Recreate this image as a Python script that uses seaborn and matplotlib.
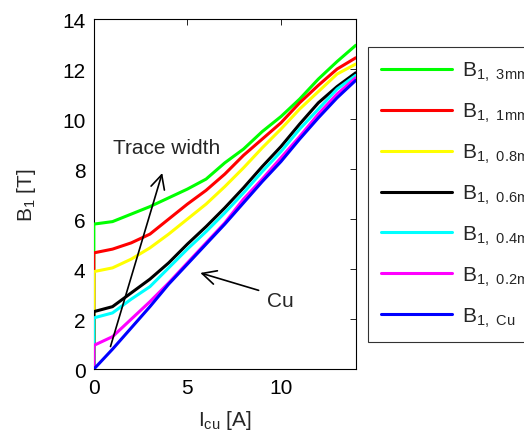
import matplotlib
matplotlib.use("Agg")
import matplotlib.pyplot as plt
import seaborn as sns
import numpy as np

# x positions (current in A); first point repeated at 0 so each trace rises from the origin
current = [0, 0, 1, 2, 3, 4, 5, 6, 7, 8, 9, 10, 11, 12, 13, 14]

b3mm = [0, 5.80, 5.90, 6.20, 6.50, 6.85, 7.20, 7.60, 8.25, 8.80, 9.50, 10.10, 10.80, 11.60, 12.30, 12.95]
b1mm = [0, 4.65, 4.80, 5.05, 5.40, 6.00, 6.60, 7.15, 7.80, 8.55, 9.20, 9.85, 10.65, 11.35, 12.00, 12.45]
b08mm = [0, 3.90, 4.05, 4.40, 4.85, 5.40, 6.00, 6.60, 7.30, 8.05, 8.85, 9.60, 10.40, 11.10, 11.80, 12.20]
b06mm = [0, 2.30, 2.50, 3.05, 3.60, 4.25, 5.00, 5.70, 6.45, 7.25, 8.10, 8.90, 9.80, 10.65, 11.30, 11.85]
b04mm = [0, 2.05, 2.25, 2.80, 3.30, 4.05, 4.80, 5.50, 6.25, 7.05, 7.90, 8.70, 9.60, 10.40, 11.20, 11.75]
b02mm = [0, 0.95, 1.30, 2.00, 2.70, 3.45, 4.25, 5.05, 5.85, 6.80, 7.60, 8.45, 9.30, 10.20, 11.00, 11.65]
bCu = [0, 0.00, 0.80, 1.65, 2.50, 3.40, 4.20, 5.00, 5.80, 6.65, 7.50, 8.30, 9.20, 10.05, 10.85, 11.55]

series = [b3mm, b1mm, b08mm, b06mm, b04mm, b02mm, bCu]
labels = [
    r"B$_{1,\ 3mm}$",
    r"B$_{1,\ 1mm}$",
    r"B$_{1,\ 0.8mm}$",
    r"B$_{1,\ 0.6mm}$",
    r"B$_{1,\ 0.4mm}$",
    r"B$_{1,\ 0.2mm}$",
    r"B$_{1,\ Cu}$",
]
colors = ["#00ff00", "#ff0000", "#ffff00", "#000000", "#00ffff", "#ff00ff", "#0000ff"]

sns.set_theme(style="white")
plt.rcParams["font.family"] = ["Liberation Sans", "DejaVu Sans"]
plt.rcParams["mathtext.default"] = "regular"

fig = plt.figure(figsize=(5.24, 4.35), dpi=100)
ax = fig.add_axes([0.179, 0.149, 0.500, 0.805])

for vals, lab, col in zip(series, labels, colors):
    sns.lineplot(x=current, y=vals, color=col, label=lab, sort=False,
                 estimator=None, linewidth=2.2, zorder=3, ax=ax)

ax.set_xlim(0, 14)
ax.set_ylim(0, 14)
ax.set_xticks([0, 5, 10])
ax.set_yticks(np.arange(0, 15, 2))
ax.tick_params(direction="in", length=4, width=0.6, top=True, right=True,
               labelsize=15, colors="black", pad=6)
for sp in ax.spines.values():
    sp.set_color("black")
    sp.set_linewidth(0.8)

ax.set_xlabel(r"I$_{cu}$ [A]", fontsize=15, labelpad=8)
ax.set_ylabel(r"B$_1$ [T]", fontsize=15, labelpad=17)

# annotations
ax.annotate("", xy=(3.7, 7.95), xytext=(0.85, 0.8),
            arrowprops=dict(arrowstyle="->", color="black", lw=1.2,
                            mutation_scale=25), zorder=4)
ax.text(1.05, 8.85, "Trace width", fontsize=15, va="center", ha="left")
ax.annotate("", xy=(5.55, 3.88), xytext=(8.95, 3.12),
            arrowprops=dict(arrowstyle="->", color="black", lw=1.2,
                            mutation_scale=25))
ax.text(9.95, 2.73, "Cu", fontsize=15, va="center", ha="center")

leg = ax.legend(loc="upper left", bbox_to_anchor=(1.045, 0.921), fontsize=15,
                frameon=True, fancybox=False, edgecolor="black",
                handlelength=3.4, handletextpad=0.5, labelspacing=0.85,
                borderpad=0.65, borderaxespad=0)
leg.get_frame().set_linewidth(0.8)

fig.savefig("out.png", dpi=100)
